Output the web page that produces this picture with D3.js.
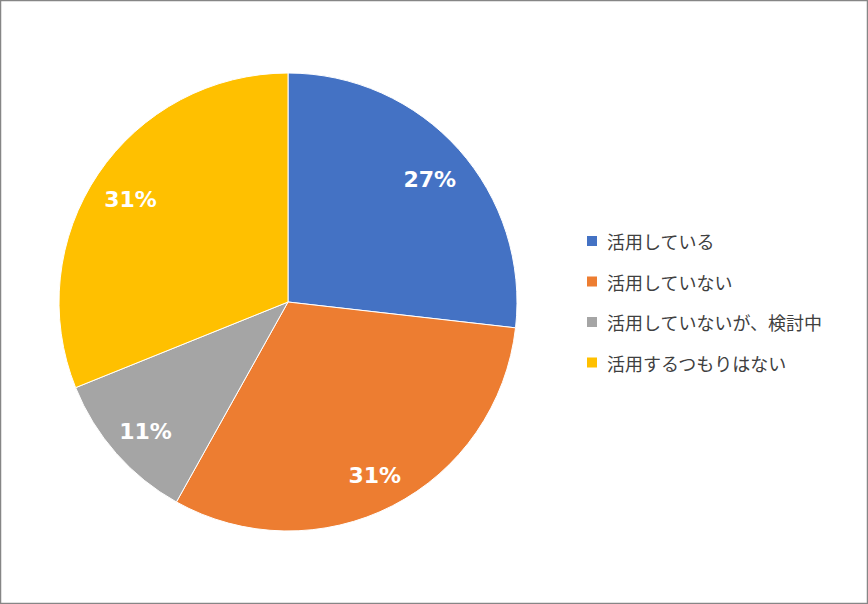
<!DOCTYPE html>
<html><head><meta charset="utf-8">
<script src="https://cdn.jsdelivr.net/npm/d3@7"></script>
<style>html,body{margin:0;padding:0;background:#fff;}svg{display:block;}</style>
</head><body>
<svg id="c" width="868" height="604"></svg>
<script>
const categories = ["活用している","活用していない","活用していないが、検討中","活用するつもりはない"];
const values = [26.8, 31.3, 10.8, 31.1];
const labels = ["27%","31%","11%","31%"];
const colors = ["#4472C4","#ED7D31","#A5A5A5","#FFC000"];

const svg = d3.select("#c");
svg.append("rect").attr("x",0.5).attr("y",0.5).attr("width",867).attr("height",603)
  .attr("fill","#fff").attr("stroke","#868686").attr("stroke-width",1.5);

const cx = 288, cy = 302, R = 229;
const pie = d3.pie().sort(null).value(d=>d)(values);
const arc = d3.arc().innerRadius(0).outerRadius(R);
const labelArc = d3.arc().innerRadius(190).outerRadius(190);
const g = svg.append("g").attr("transform",`translate(${cx},${cy})`);
g.selectAll("path").data(pie).join("path")
  .attr("d",arc).attr("fill",(d,i)=>colors[i]).attr("stroke","#fff").attr("stroke-width",1);
g.selectAll("text").data(pie).join("text")
  .attr("transform",d=>{const c=labelArc.centroid(d);return `translate(${c[0]},${c[1]+4})`;})
  .attr("text-anchor","middle").attr("dominant-baseline","central")
  .attr("fill","#fff").attr("font-family","'DejaVu Sans', sans-serif").attr("font-weight","bold")
  .attr("font-size",22).text((d,i)=>labels[i]);

const lg = svg.append("g").attr("transform","translate(587,241)");
categories.forEach((c,i)=>{
  const row = lg.append("g").attr("transform",`translate(0,${i*40.5})`);
  row.append("rect").attr("x",0).attr("y",-5).attr("width",10).attr("height",10).attr("fill",colors[i]);
  row.append("text").attr("x",20).attr("y",0).attr("dominant-baseline","central")
    .attr("font-family","'Noto Sans CJK JP', sans-serif").attr("font-size",18).attr("fill","#404040").text(c);
});
</script>
</body></html>
